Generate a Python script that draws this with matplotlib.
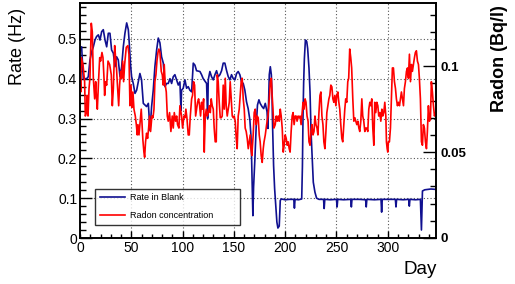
import numpy as np
import matplotlib
matplotlib.use("Agg")
import matplotlib.pyplot as plt
from matplotlib.ticker import MultipleLocator

plt.rcParams['font.family'] = ['Liberation Sans', 'DejaVu Sans']

# rate in blank (Hz) vs day
blank_day = [0, 1.6, 3.2, 6.5, 8.1, 9.7, 11.4, 13.0, 14.6, 16.2, 17.9, 19.5, 21.1, 22.7, 24.4, 26.0,
             27.6, 29.2, 30.8, 32.5, 34.1, 35.7, 37.3, 39.0, 40.6, 42.2, 43.8, 45.5, 47.1, 48.0, 49.4,
             50.3, 51.9, 53.6, 55.2, 56.8, 58.4, 60.0, 61.7, 63.3, 64.9, 66.6, 68.2, 69.8, 71.4, 73.0,
             74.7, 76.3, 77.9, 79.5, 81.2, 82.8, 84.4, 86.0, 87.7, 89.3, 90.9, 92.5, 94.2, 95.8, 97.4,
             98.4, 99.0, 100.6, 102.3, 103.9, 105.5, 107.1, 108.8, 110.4, 112.0, 113.6, 116.9, 118.5,
             120.1, 123.4, 124.4, 125.0, 126.6, 128.2, 129.9, 131.5, 133.1, 134.7, 136.4, 138.0, 139.6,
             141.2, 142.9, 144.5, 146.1, 147.7, 149.4, 151.0, 152.6, 154.2, 155.8, 157.5, 159.1, 160.7,
             162.3, 163.9, 165.6, 166.6, 167.2, 167.9, 168.5, 169.2, 170.5, 171.8, 173.0, 174.4, 175.6,
             177.4, 179.0, 180.6, 182.3, 183.2, 184.5, 185.5, 186.5, 187.1, 187.7, 188.7, 189.7, 191.0,
             191.9, 192.9, 194.2, 195.2, 196.1, 200.0, 204.0, 208.4, 209.0, 209.6, 213.0, 216.1, 216.8,
             217.4, 218.0, 218.7, 219.7, 221.0, 221.9, 223.2, 224.2, 225.2, 226.5, 227.4, 229.0, 230.6,
             233.0, 237.4, 238.0, 238.6, 244.0, 250.0, 250.6, 251.2, 257.0, 263.9, 264.5, 265.1, 272.0,
             278.4, 279.0, 279.6, 287.0, 293.4, 294.0, 294.6, 301.0, 307.4, 308.0, 308.6, 315.0, 320.4,
             321.0, 321.6, 327.0, 331.8, 332.8, 333.8, 336.0, 339.0, 342.0, 347.0]
blank_rate = [0.472, 0.48, 0.40, 0.40, 0.405, 0.447, 0.468, 0.48, 0.497, 0.506, 0.51, 0.497, 0.518, 0.523, 0.497, 0.48,
              0.514, 0.514, 0.472, 0.464, 0.43, 0.455, 0.447, 0.405, 0.43, 0.48, 0.514, 0.54, 0.523, 0.49, 0.43,
              0.405, 0.388, 0.363, 0.371, 0.392, 0.413, 0.397, 0.338, 0.334, 0.33, 0.338, 0.27, 0.33, 0.371, 0.43,
              0.472, 0.502, 0.49, 0.455, 0.439, 0.38, 0.388, 0.388, 0.40, 0.388, 0.405, 0.41, 0.397, 0.384, 0.392,
              0.32, 0.371, 0.376, 0.397, 0.376, 0.38, 0.371, 0.367, 0.439, 0.434, 0.42, 0.418, 0.41,
              0.40, 0.388, 0.30, 0.397, 0.418, 0.405, 0.397, 0.41, 0.42, 0.405, 0.41, 0.42, 0.439,
              0.439, 0.42, 0.405, 0.397, 0.41, 0.40, 0.397, 0.413, 0.418, 0.41, 0.392, 0.388, 0.371,
              0.342, 0.325, 0.296, 0.258, 0.208, 0.132, 0.056, 0.128, 0.20, 0.284, 0.334, 0.347, 0.338,
              0.33, 0.325, 0.338, 0.317, 0.275, 0.41, 0.43, 0.41, 0.367, 0.283, 0.182, 0.124, 0.073,
              0.04, 0.025, 0.03, 0.094, 0.098, 0.096, 0.097, 0.097, 0.075, 0.097, 0.096, 0.098, 0.18,
              0.31, 0.39, 0.45, 0.497, 0.493, 0.476, 0.426, 0.367, 0.266, 0.19, 0.14, 0.115, 0.10,
              0.097, 0.097, 0.074, 0.097, 0.096, 0.097, 0.078, 0.097, 0.096, 0.097, 0.078, 0.097, 0.097,
              0.096, 0.078, 0.097, 0.096, 0.097, 0.065, 0.097, 0.097, 0.097, 0.078, 0.097, 0.096, 0.097,
              0.08, 0.097, 0.096, 0.097, 0.02, 0.118, 0.121, 0.122, 0.123, 0.122]

# radon concentration (Bq/l) vs day
radon_day = [0, 0.7, 1.3, 2.9, 4.5, 5.2, 6.2, 7.1, 7.8, 8.8, 9.7, 11.0, 12.0, 13.0, 14.3, 15.3, 15.9, 16.9,
             18.2, 19.2, 20.1, 21.4, 22.4, 23.4, 24.0, 25.0, 26.0, 27.3, 28.9, 30.5, 31.5, 32.5, 33.8, 34.7,
             35.4, 36.3, 37.7, 38.6, 39.6, 40.6, 41.6, 42.5, 43.5, 45.1, 46.7, 47.7, 48.7, 49.7, 50.6, 51.6,
             52.6, 53.9, 54.9, 55.8, 56.5, 57.5, 58.7, 59.7, 61.3, 62.3, 63.0, 63.9, 64.9, 65.9, 66.9, 67.8,
             68.8, 70.1, 71.1, 72.1, 73.0, 74.0, 75.0, 76.0, 76.9, 77.9, 79.2, 80.2, 81.2, 82.1, 83.1, 84.1,
             85.1, 86.0, 87.3, 88.6, 89.9, 90.9, 91.9, 93.2, 94.2, 95.1, 96.4, 97.4, 99.0, 100.0, 101.3,
             102.3, 103.2, 104.2, 105.5, 106.5, 107.5, 108.8, 109.7, 110.7, 111.7, 112.7, 113.6, 114.6,
             115.6, 116.6, 117.5, 118.5, 119.5, 120.5, 121.1, 122.1, 123.1, 124.0, 125.0, 126.0, 127.0,
             127.9, 128.9, 129.9, 130.8, 131.8, 132.8, 133.8, 134.7, 135.7, 136.7, 137.7, 138.6, 139.6,
             140.6, 141.6, 142.5, 143.5, 144.5, 145.5, 146.4, 147.4, 148.4, 149.4, 150.3, 151.3, 152.3,
             153.2, 154.2, 155.2, 156.2, 157.1, 158.1, 159.1, 160.1, 161.0, 162.0, 163.0, 164.0, 164.9,
             165.9, 166.6, 167.5, 168.8, 169.8, 170.8, 171.8, 172.7, 173.7, 174.7, 175.6, 176.6, 177.6,
             178.6, 179.4, 180.6, 181.9, 183.2, 184.5, 185.5, 186.5, 187.1, 188.1, 189.0, 190.3, 191.3,
             192.3, 193.2, 194.2, 195.2, 196.1, 197.1, 198.1, 199.0, 200.0, 201.0, 201.9, 202.9, 203.9,
             204.8, 205.8, 206.8, 207.7, 208.7, 209.7, 210.6, 211.6, 212.6, 213.5, 214.5, 215.5, 216.5,
             217.4, 218.4, 219.4, 220.3, 221.3, 222.3, 223.2, 224.2, 225.2, 226.1, 227.1, 228.1, 229.0,
             230.0, 231.0, 231.9, 232.9, 233.9, 234.8, 235.8, 236.8, 237.7, 238.7, 239.7, 240.6, 241.6,
             242.6, 243.5, 244.5, 245.5, 246.5, 247.4, 248.4, 249.4, 250.3, 251.3, 252.3, 253.2, 254.2,
             255.2, 256.1, 257.1, 258.1, 259.0, 260.0, 261.0, 261.9, 262.9, 263.9, 264.8, 265.9, 266.9,
             267.9, 268.8, 269.8, 270.8, 271.8, 272.7, 273.7, 274.7, 275.6, 276.6, 277.6, 278.6, 279.5,
             280.5, 281.5, 282.5, 283.4, 284.4, 285.4, 286.4, 287.3, 288.3, 289.3, 290.3, 291.2, 292.2,
             293.2, 294.2, 295.1, 296.1, 297.1, 298.1, 298.7, 299.4, 300.0, 300.6, 301.6, 302.6, 303.6,
             304.5, 305.5, 306.5, 307.5, 308.4, 309.4, 310.4, 311.4, 312.3, 313.3, 314.3, 315.3, 316.2,
             317.2, 318.2, 319.2, 320.1, 321.1, 322.1, 323.1, 324.0, 325.0, 326.0, 326.9, 327.9, 328.9,
             329.9, 330.8, 331.8, 332.8, 333.8, 334.7, 335.7, 336.7, 337.7, 338.6, 339.6, 340.6, 341.6,
             342.5, 343.5, 344.5, 345.5, 346.4, 347.4]
radon_conc = [0.097, 0.085, 0.105, 0.101, 0.091, 0.071, 0.073, 0.083, 0.071, 0.087, 0.093, 0.125, 0.120, 0.093, 0.081, 0.091, 0.083, 0.075,
              0.093, 0.105, 0.103, 0.108, 0.105, 0.093, 0.083, 0.091, 0.089, 0.103, 0.101, 0.095, 0.077, 0.087, 0.112, 0.105,
              0.101, 0.091, 0.077, 0.089, 0.097, 0.093, 0.103, 0.091, 0.101, 0.111, 0.112, 0.107, 0.077, 0.089, 0.076, 0.085,
              0.075, 0.071, 0.066, 0.060, 0.066, 0.060, 0.068, 0.075, 0.057, 0.050, 0.047, 0.056, 0.061, 0.058, 0.064, 0.071,
              0.062, 0.071, 0.070, 0.075, 0.091, 0.095, 0.103, 0.108, 0.110, 0.108, 0.097, 0.095, 0.089, 0.101, 0.089, 0.085,
              0.071, 0.068, 0.073, 0.062, 0.071, 0.064, 0.073, 0.068, 0.071, 0.066, 0.064, 0.077, 0.071, 0.064, 0.071,
              0.070, 0.075, 0.070, 0.060, 0.060, 0.071, 0.081, 0.083, 0.091, 0.089, 0.071, 0.075, 0.079,
              0.081, 0.077, 0.071, 0.079, 0.075, 0.081, 0.050, 0.071, 0.075, 0.071, 0.073, 0.077, 0.073,
              0.081, 0.077, 0.075, 0.064, 0.056, 0.056, 0.095, 0.091, 0.079, 0.070, 0.070, 0.071, 0.089,
              0.075, 0.093, 0.077, 0.071, 0.075, 0.079, 0.091, 0.081, 0.071, 0.070, 0.071, 0.068, 0.058,
              0.052, 0.071, 0.075, 0.083, 0.091, 0.093, 0.081, 0.075, 0.064, 0.062, 0.058, 0.052, 0.056,
              0.060, 0.052, 0.048, 0.060, 0.073, 0.075, 0.066, 0.071, 0.070, 0.060, 0.056, 0.048, 0.044,
              0.052, 0.056, 0.060, 0.066, 0.071, 0.081, 0.091, 0.093, 0.085, 0.075, 0.064, 0.066, 0.071,
              0.068, 0.071, 0.068, 0.075, 0.071, 0.064, 0.050, 0.054, 0.060, 0.058, 0.054, 0.056, 0.052,
              0.050, 0.062, 0.071, 0.073, 0.066, 0.071, 0.071, 0.068, 0.071, 0.070, 0.071, 0.066, 0.073,
              0.079, 0.075, 0.081, 0.079, 0.071, 0.068, 0.056, 0.054, 0.062, 0.066, 0.060, 0.062, 0.071,
              0.066, 0.064, 0.060, 0.073, 0.083, 0.085, 0.071, 0.066, 0.056, 0.052, 0.062, 0.073, 0.077,
              0.081, 0.083, 0.089, 0.088, 0.081, 0.079, 0.083, 0.077, 0.083, 0.085, 0.079, 0.075, 0.066,
              0.058, 0.056, 0.066, 0.075, 0.081, 0.079, 0.091, 0.093, 0.110, 0.105, 0.099, 0.081, 0.068,
              0.070, 0.068, 0.066, 0.068, 0.064, 0.062, 0.068, 0.081, 0.071, 0.068, 0.062, 0.064, 0.064,
              0.062, 0.075, 0.079, 0.077, 0.081, 0.064, 0.054, 0.079, 0.073, 0.079, 0.077, 0.071, 0.073,
              0.068, 0.075, 0.071, 0.073, 0.079, 0.071, 0.056, 0.052, 0.050, 0.056, 0.056, 0.064, 0.083,
              0.099, 0.099, 0.091, 0.087, 0.081, 0.077, 0.079, 0.077, 0.081, 0.085, 0.081, 0.077, 0.087,
              0.091, 0.097, 0.099, 0.093, 0.107, 0.091, 0.101, 0.097, 0.101, 0.105, 0.108, 0.109, 0.103,
              0.101, 0.093, 0.081, 0.056, 0.054, 0.066, 0.064, 0.056, 0.052, 0.062, 0.077, 0.068, 0.070,
              0.091, 0.085, 0.077, 0.071, 0.073, 0.071]

fig = plt.figure(figsize=(5.15, 2.84), dpi=100)
ax = fig.add_axes([80/515, 1-238/284, 356/515, 235/284])
ax.set_xlim(0, 347)
ax.set_ylim(0, 0.59)

l1, = ax.plot(blank_day, blank_rate, color='#101090', lw=1.2, label='Rate in Blank')

ax2 = ax.twinx()
ax2.set_ylim(0, 0.1368)
l2, = ax2.plot(radon_day, radon_conc, color='#ff0000', lw=1.2, label='Radon concentration')

ax.xaxis.set_major_locator(MultipleLocator(50))
ax.xaxis.set_minor_locator(MultipleLocator(10))
ax.yaxis.set_major_locator(MultipleLocator(0.1))
ax.yaxis.set_minor_locator(MultipleLocator(0.02))
ax.set_xticks([50, 100, 150, 200, 250, 300], minor=False)
ax.set_xticklabels(['50', '100', '150', '200', '250', '300'])
ax.grid(True, color='#555555', linestyle=(0, (1, 2)), linewidth=0.8)
ax.tick_params(axis='both', which='both', direction='in', labelsize=10, width=1)
ax.tick_params(axis='y', which='major', length=8.5, pad=2)
ax.tick_params(axis='y', which='minor', length=4.3)
ax.tick_params(axis='x', which='major', length=5, pad=2)
ax.tick_params(axis='x', which='minor', length=3)
ax.set_yticks([0, 0.1, 0.2, 0.3, 0.4, 0.5])
ax.set_yticklabels(['0', '0.1', '0.2', '0.3', '0.4', '0.5'])
fig.text(80/515, 1-248/284, '0', fontsize=10, ha='center', va='center')

ax2.yaxis.set_major_locator(MultipleLocator(0.05))
ax2.yaxis.set_minor_locator(MultipleLocator(0.01))
ax2.set_yticks([0, 0.05, 0.1])
ax2.set_yticklabels(['0', '0.05', '0.1'], fontweight='bold')
ax2.tick_params(axis='y', which='both', direction='in', labelsize=9.5, pad=3, width=1)
ax2.tick_params(axis='y', which='major', length=9.5)
ax2.tick_params(axis='y', which='minor', length=4.5)

for a in (ax, ax2):
    for s in a.spines.values():
        s.set_linewidth(1.2)

fig.text(17/515, 1-8/284, 'Rate (Hz)', rotation=90, fontsize=13, ha='center', va='top')
fig.text(500/515, 1-5/284, 'Radon (Bq/l)', rotation=90, fontsize=13, fontweight='bold', ha='center', va='top')
fig.text(437/515, 1-270/284, 'Day', fontsize=13.5, ha='right', va='center')

leg = ax2.legend([l1, l2], ['Rate in Blank', 'Radon concentration'], loc='lower left',
                 bbox_to_anchor=(15/356, 13/235, 145/356, 39/235), mode='expand',
                 fontsize=6.5, frameon=True, fancybox=False, edgecolor='black',
                 handlelength=2.8, handletextpad=0.6, labelspacing=1.0, borderpad=0.5,
                 borderaxespad=0)
leg.get_frame().set_linewidth(1.0)

fig.savefig('out.png', dpi=100)
